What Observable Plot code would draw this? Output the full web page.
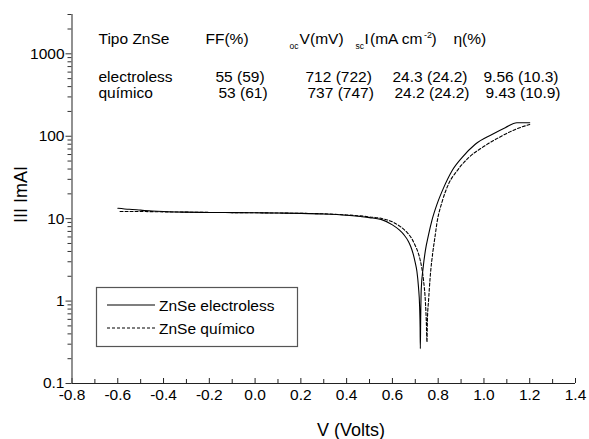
<!DOCTYPE html>
<html>
<head>
<meta charset="utf-8">
<script src="https://cdn.jsdelivr.net/npm/d3@7"></script>
<script src="https://cdn.jsdelivr.net/npm/@observablehq/plot@0.6"></script>
<style>
  html, body { margin: 0; padding: 0; background: #fff; }
  #chart { width: 589px; height: 439px; }
</style>
</head>
<body>
<div id="chart"></div>
<script>
// ---- data ----
const seriesNames = ["ZnSe electroless", "ZnSe químico"];

const vElectroless = [-0.60, -0.55, -0.50, -0.45, -0.40, -0.30, -0.20, -0.10, 0.00, 0.10, 0.20, 0.30, 0.40, 0.46, 0.50, 0.55, 0.60, 0.63, 0.65, 0.67, 0.68, 0.69, 0.70, 0.707, 0.714, 0.719, 0.721, 0.722, 0.7235, 0.726, 0.734, 0.744, 0.758, 0.773, 0.795, 0.824, 0.860, 0.904, 0.962, 1.035, 1.093, 1.144, 1.200];
const iElectroless = [13.4, 13.0, 12.7, 12.4, 12.2, 12.0, 11.9, 11.85, 11.8, 11.7, 11.6, 11.4, 11.0, 10.6, 10.3, 9.8, 8.4, 7.3, 6.4, 5.3, 4.6, 3.8, 2.9, 2.3, 1.47, 0.84, 0.48, 0.265, 0.6, 1.4, 2.5, 4.1, 6.4, 9.6, 15.0, 23.8, 37.9, 55, 80, 105, 127, 146, 146];

const vQuimico = [-0.59, -0.50, -0.40, -0.30, -0.20, -0.10, 0.00, 0.10, 0.20, 0.30, 0.40, 0.46, 0.50, 0.55, 0.605, 0.635, 0.664, 0.685, 0.700, 0.712, 0.722, 0.736, 0.744, 0.748, 0.751, 0.753, 0.758, 0.765, 0.777, 0.786, 0.795, 0.817, 0.845, 0.882, 0.933, 0.991, 1.064, 1.137, 1.200];
const iQuimico = [12.2, 12.2, 12.1, 12.0, 11.9, 11.85, 11.8, 11.7, 11.6, 11.45, 11.1, 10.8, 10.5, 10.1, 9.0, 8.0, 6.8, 5.7, 4.7, 3.9, 3.1, 1.78, 1.0, 0.58, 0.32, 0.6, 1.02, 1.95, 4.0, 6.0, 9.0, 16.0, 26.2, 37.9, 55, 72.6, 96, 121, 139];

const xTicks = [-0.8, -0.6, -0.4, -0.2, 0.0, 0.2, 0.4, 0.6, 0.8, 1.0, 1.2, 1.4];
const xMinorTicks = [-0.7, -0.5, -0.3, -0.1, 0.1, 0.3, 0.5, 0.7, 0.9, 1.1, 1.3];
const yTicks = [0.1, 1, 10, 100, 1000];
const yMinorMultipliers = [2, 3, 4, 5, 6, 7, 8, 9];

const tableHeader = ["Tipo ZnSe", "FF(%)", "V", "(mV)", "I", "(mA cm", ")", "η(%)"];
const tipos = ["electroless", "químico"];
const ffValues = ["55 (59)", "53 (61)"];
const vocValues = ["712 (722)", "737 (747)"];
const iscValues = ["24.3 (24.2)", "24.2 (24.2)"];
const etaValues = ["9.56 (10.3)", "9.43 (10.9)"];

const xLabel = "V (Volts)";
const yLabel = "III ImAI";

// ---- build ----
const electroless = vElectroless.map((v, i) => ({v, i: iElectroless[i]}));
const quimico = vQuimico.map((v, i) => ({v, i: iQuimico[i]}));
const yMinorTicks = yTicks.flatMap(d => yMinorMultipliers.map(m => +(d * m).toPrecision(3))).filter(d => d <= 3000);

const FONT = "'Liberation Sans', Arial, Helvetica, sans-serif";
const ML = 71.5, MT = 14;

function label(text, x, baseline, size, opts = {}) {
  return Plot.text([text], {
    text: d => d,
    frameAnchor: "top-left",
    dx: x - ML,
    dy: baseline - MT,
    textAnchor: "start",
    lineAnchor: "bottom",
    fontSize: size,
    fill: "#000",
    ...opts
  });
}

const TS = 15.5; // table font size
const rowBase = [81, 97];
const tableMarks = [
  label(tableHeader[0], 98, 43, TS),
  label(tableHeader[1], 205, 43, TS),
  label("oc", 289, 48, 8.5),
  label(tableHeader[2], 299, 43, TS),
  label(tableHeader[3], 309.5, 43, TS),
  label("sc", 355, 48, 8.5),
  label(tableHeader[4], 364, 43, TS),
  label(tableHeader[5], 369.5, 43, TS),
  label("-2", 423.5, 37, 9),
  label(tableHeader[6], 431, 43, TS),
  label(tableHeader[7], 453, 43, TS),
  label(tipos[0], 98, rowBase[0], TS),
  label(tipos[1], 98, rowBase[1], TS),
  label(ffValues[0], 215, rowBase[0], TS),
  label(ffValues[1], 218, rowBase[1], TS),
  label(vocValues[0], 305, rowBase[0], TS),
  label(vocValues[1], 307, rowBase[1], TS),
  label(iscValues[0], 392, rowBase[0], TS),
  label(iscValues[1], 394, rowBase[1], TS),
  label(etaValues[0], 483, rowBase[0], TS),
  label(etaValues[1], 485, rowBase[1], TS)
];

const svg = Plot.plot({
  width: 589,
  height: 439,
  marginLeft: ML,
  marginRight: 14,
  marginTop: MT,
  marginBottom: 56,
  style: {fontFamily: FONT, fontSize: "15.5px", color: "#000", background: "#fff", overflow: "visible"},
  x: {domain: [-0.8, 1.4], label: null},
  y: {type: "log", domain: [0.1, 3000], label: null},
  marks: [
    // axes
    Plot.axisX(xTicks, {tickSize: -5, fill: null, stroke: "#222", label: null}),
    Plot.axisX(xMinorTicks, {tickSize: -4, fill: null, stroke: "#222", label: null}),
    Plot.axisX(xTicks, {tickSize: 0, tickPadding: 5, tickFormat: d => d.toFixed(1), fontSize: 15.5, fill: "#000", label: null}),
    Plot.axisY(yTicks, {tickSize: 6, tickPadding: 1.5, tickFormat: d => String(d), stroke: "#333", fill: "#000", fontSize: 15.5, label: null}),
    Plot.axisY(yMinorTicks, {tickSize: 4, fill: null, stroke: "#333", label: null}),
    Plot.ruleX([-0.8], {stroke: "#555", strokeWidth: 1.3}),
    Plot.ruleY([0.1], {stroke: "#222", strokeWidth: 1.1}),
    // curves
    Plot.line(electroless, {x: "v", y: "i", stroke: "#000", strokeWidth: 1.1, curve: "monotone-x"}),
    Plot.line(quimico, {x: "v", y: "i", stroke: "#000", strokeWidth: 1.1, strokeDasharray: "3,2", curve: "monotone-x"}),
    // axis titles
    label(xLabel, 350.5, 435, 18, {textAnchor: "middle", letterSpacing: "0.5px"}),
    Plot.text([yLabel], {text: d => d, frameAnchor: "top-left", dx: 21 - ML, dy: 194 - MT, rotate: -90, textAnchor: "middle", lineAnchor: "middle", fontSize: 18, fill: "#000", letterSpacing: "1px"}),
    ...tableMarks
  ]
});

// legend box (decoration)
const lg = d3.select(svg).append("g")
  .attr("font-family", FONT).attr("font-size", 15.5).attr("text-anchor", "start");
lg.append("rect").attr("x", 96.5).attr("y", 287.5).attr("width", 201).attr("height", 59)
  .attr("fill", "#fff").attr("stroke", "#555").attr("stroke-width", 1.2);
lg.append("line").attr("x1", 107).attr("x2", 155).attr("y1", 305).attr("y2", 305)
  .attr("stroke", "#000").attr("stroke-width", 1.1);
lg.append("line").attr("x1", 107).attr("x2", 155).attr("y1", 328).attr("y2", 328)
  .attr("stroke", "#000").attr("stroke-width", 1.1).attr("stroke-dasharray", "3,2");
lg.append("text").attr("x", 159).attr("y", 311).attr("text-anchor", "start").attr("fill", "#000").text(seriesNames[0]);
lg.append("text").attr("x", 159).attr("y", 334).attr("text-anchor", "start").attr("fill", "#000").text(seriesNames[1]);

document.getElementById("chart").appendChild(svg);
</script>
</body>
</html>
